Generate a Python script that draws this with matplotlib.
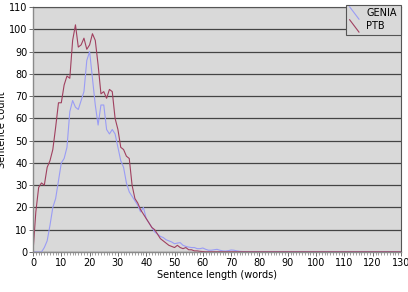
import matplotlib
matplotlib.use("Agg")
from matplotlib import pyplot as plt
from matplotlib.legend_handler import HandlerLine2D
from matplotlib.lines import Line2D
import numpy as np

# Sentence length distribution: GENIA vs PTB

lengths = list(range(0, 131))

ptb_head = [0, 18, 29, 31, 30, 38, 41, 46, 56, 67,
            67, 75, 79, 78, 95, 102, 92, 93, 96, 91,
            93, 98, 95, 84, 71, 72, 69, 73, 72, 60,
            55, 47, 46, 43, 42, 30, 24, 22, 19, 17,
            15, 13, 11, 10, 8, 6, 5, 4, 3, 2.5,
            2, 3, 2, 1.5, 2, 1, 1, 0.5, 0.5, 0.3,
            0.2]

genia_head = [0, 0, 0, 0, 2, 5, 12, 20, 24, 32,
              40, 42, 47, 63, 68, 65, 64, 68, 72, 86,
              90, 78, 66, 57, 66, 66, 55, 53, 55, 53,
              47, 41, 38, 31, 27, 25, 23, 21, 18, 20,
              15, 13, 11, 9, 8, 7, 6.5, 5.5, 5, 4.5,
              3.7, 4, 4.2, 3, 2.5, 2.2, 2, 2, 1.5, 1.5,
              1.8, 1.2, 0.8, 0.8, 1, 1.2, 0.8, 0.5, 0.4, 0.6,
              0.9, 0.8, 0.5, 0.3, 0.2]

ptb = ptb_head + [0.1] * (len(lengths) - len(ptb_head))
genia = genia_head + [0.1] * (len(lengths) - len(genia_head))

ptb_color = '#a0405f'
genia_color = '#9a9cf5'


class DiagonalHandler(HandlerLine2D):
    def create_artists(self, legend, orig_handle, xdescent, ydescent,
                       width, height, fontsize, trans):
        line = Line2D([0, width * 0.8], [height + 2, -2],
                      color=orig_handle.get_color(), lw=0.8)
        line.set_transform(trans)
        return [line]


fig = plt.figure(figsize=(4.08, 2.92), dpi=100)
ax = fig.add_axes([33 / 408, 40 / 292, 368 / 408, 245 / 292])
ax.set_facecolor('#d9d9d9')

ax.plot(lengths, genia, color=genia_color, lw=0.8, label='GENIA')
ax.plot(lengths, ptb, color=ptb_color, lw=0.8, label='PTB')

ax.set_xlim(0, 130)
ax.set_ylim(0, 110)
ax.set_xticks(range(0, 131, 10))
ax.set_xticks(range(0, 131, 1), minor=True)
ax.set_yticks(range(0, 111, 10))
ax.yaxis.grid(True, color='#444444', lw=0.9)
ax.set_axisbelow(True)

ax.tick_params(axis='both', labelsize=7, length=3, width=0.6, color='#555555', pad=1)
ax.tick_params(axis='x', which='minor', length=2, width=0.5, color='#777777')
for side in ['left', 'bottom']:
    ax.spines[side].set_color('#8a8a8a')
    ax.spines[side].set_linewidth(1.0)
for side in ['right', 'top']:
    ax.spines[side].set_color('#555555')
    ax.spines[side].set_linewidth(0.8)

ax.set_xlabel('Sentence length (words)', fontsize=7, labelpad=2)
ax.set_ylabel('Sentence count', fontsize=7)
ax.yaxis.set_label_coords(-0.072, 0.5)

leg = ax.legend(loc='upper right', bbox_to_anchor=(1.012, 1.03), fontsize=7,
                handler_map={Line2D: DiagonalHandler()}, handlelength=1.2,
                handletextpad=0.5, borderpad=0.4, labelspacing=0.3,
                frameon=True, fancybox=False, framealpha=1)
leg.get_frame().set_facecolor('#d9d9d9')
leg.get_frame().set_edgecolor('#555555')
leg.get_frame().set_linewidth(0.8)

fig.savefig('out.png', dpi=100)
